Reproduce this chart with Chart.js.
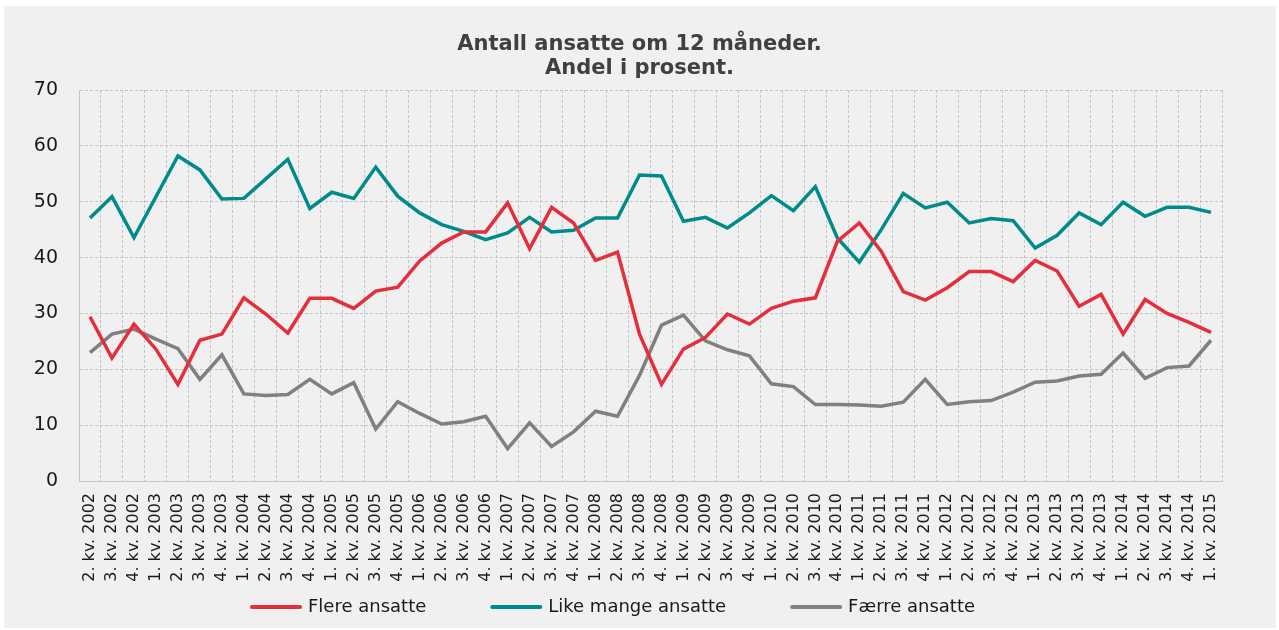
<!DOCTYPE html>
<html>
<head>
<meta charset="utf-8">
<title>Antall ansatte om 12 måneder</title>
<script src="https://cdn.jsdelivr.net/npm/chart.js@4/dist/chart.umd.min.js"></script>
<style>
  body { margin: 0; background: #fff; }
</style>
</head>
<body>
<canvas id="chart" width="1279" height="630"></canvas>
<script>
// quarters from 2. kv. 2002 to 1. kv. 2015
const startYear = 2002;
const startQuarter = 2;
const quarterCount = 52;

const categories = [];
for (let i = 0; i < quarterCount; i++) {
  const q = (startQuarter - 1 + i) % 4 + 1;
  const y = startYear + Math.floor((startQuarter - 1 + i) / 4);
  categories.push(q + ". kv. " + y);
}

const flereAnsatte = [
  29.4, 22.0, 28.1, 23.6, 17.3, 25.2, 26.3, 32.8, 29.9, 26.5, 32.7, 32.7, 30.9,
  34.0, 34.7, 39.4, 42.6, 44.6, 44.6, 49.8, 41.6, 49.0, 46.2, 39.5, 41.0, 26.3,
  17.3, 23.6, 25.7, 29.9, 28.1, 30.9, 32.2, 32.8, 42.9, 46.2, 41.1, 33.9, 32.4,
  34.6, 37.5, 37.5, 35.7, 39.5, 37.6, 31.3, 33.4, 26.3, 32.5, 30.0, 28.4, 26.6
];

const likeMangeAnsatte = [
  47.1, 50.9, 43.6, 50.9, 58.2, 55.7, 50.5, 50.6, 54.1, 57.6, 48.8, 51.7, 50.6,
  56.2, 51.0, 48.0, 45.9, 44.7, 43.2, 44.4, 47.2, 44.6, 44.9, 47.1, 47.1, 54.8,
  54.6, 46.5, 47.2, 45.3, 48.0, 51.1, 48.4, 52.7, 43.5, 39.2, 45.0, 51.5, 48.9,
  49.9, 46.2, 47.0, 46.6, 41.7, 44.0, 48.0, 45.9, 49.9, 47.4, 49.0, 49.0, 48.1
];

const faerreAnsatte = [
  23.0, 26.3, 27.2, 25.4, 23.7, 18.2, 22.6, 15.6, 15.3, 15.5, 18.2, 15.6, 17.6,
  9.3, 14.2, 12.1, 10.2, 10.6, 11.6, 5.8, 10.4, 6.2, 8.8, 12.5, 11.6, 18.9,
  27.9, 29.7, 25.1, 23.5, 22.4, 17.4, 16.9, 13.7, 13.7, 13.6, 13.4, 14.1, 18.2,
  13.7, 14.2, 14.4, 15.9, 17.7, 17.9, 18.8, 19.1, 22.9, 18.4, 20.3, 20.6, 25.2
];

const seriesNames = ["Flere ansatte", "Like mange ansatte", "Færre ansatte"];
const seriesColors = ["#e52e3c", "#008b8b", "#808080"];
const titleLines = ["Antall ansatte om 12 måneder.", "Andel i prosent."];

const fontFamily = "'DejaVu Sans', Verdana, sans-serif";
const gridColor = "#c4c4c4";
const textColor = "#1a1a1a";

// paints the grey page behind the chart
const background = {
  id: "background",
  beforeDraw(chart) {
    const ctx = chart.ctx;
    ctx.save();
    ctx.fillStyle = "#ffffff";
    ctx.fillRect(0, 0, chart.width, chart.height);
    ctx.fillStyle = "#f0f0f0";
    ctx.fillRect(4, 6, chart.width - 7, chart.height - 8);
    ctx.restore();
  }
};

// legend row under the axis labels, with wider gaps than the built-in one
const legendLeft = 250;
const legendY = 607;
const legendLine = 52;
const legendGap = 6;
const legendSpacing = 64;

const lineLegend = {
  id: "lineLegend",
  afterDraw(chart) {
    const ctx = chart.ctx;
    ctx.save();
    ctx.font = "18px " + fontFamily;
    ctx.textBaseline = "middle";
    ctx.textAlign = "left";
    let x = legendLeft;
    chart.data.datasets.forEach(function (ds) {
      ctx.strokeStyle = ds.borderColor;
      ctx.lineWidth = 4;
      ctx.lineCap = "round";
      ctx.beginPath();
      ctx.moveTo(x + 2, legendY);
      ctx.lineTo(x + legendLine - 2, legendY);
      ctx.stroke();
      x += legendLine + legendGap;
      ctx.fillStyle = textColor;
      ctx.fillText(ds.label, x, legendY);
      x += ctx.measureText(ds.label).width + legendSpacing;
    });
    ctx.restore();
  }
};

function makeDataset(i, values) {
  return {
    label: seriesNames[i],
    data: values,
    borderColor: seriesColors[i],
    backgroundColor: seriesColors[i],
    borderWidth: 3.5,
    pointRadius: 0,
    pointHoverRadius: 0,
    tension: 0,
    fill: false
  };
}

new Chart(document.getElementById("chart"), {
  type: "line",
  data: {
    labels: categories,
    datasets: [
      makeDataset(0, flereAnsatte),
      makeDataset(1, likeMangeAnsatte),
      makeDataset(2, faerreAnsatte)
    ]
  },
  options: {
    responsive: false,
    animation: false,
    layout: {
      padding: 0
    },
    plugins: {
      title: {
        display: true,
        text: titleLines,
        color: "#404040",
        font: { family: fontFamily, size: 21, weight: "bold", lineHeight: 1.12 },
        padding: { top: 33, bottom: 10 }
      },
      legend: { display: false },
      tooltip: { enabled: false }
    },
    scales: {
      x: {
        offset: true,
        grid: {
          offset: true,
          color: gridColor,
          lineWidth: 1,
          drawTicks: false
        },
        border: { display: true, color: gridColor, dash: [3, 2] },
        ticks: {
          autoSkip: false,
          minRotation: 90,
          maxRotation: 90,
          padding: 12,
          color: textColor,
          font: { family: fontFamily, size: 16 }
        },
        afterFit(scale) {
          scale.height = 149;
        }
      },
      y: {
        min: 0,
        max: 70,
        grid: {
          color: gridColor,
          lineWidth: 1,
          drawTicks: false
        },
        border: { display: true, color: gridColor, dash: [3, 2] },
        ticks: {
          stepSize: 10,
          padding: 21,
          color: textColor,
          font: { family: fontFamily, size: 19 }
        },
        afterFit(scale) {
          scale.width = 79;
        }
      },
      // empty axis that only keeps the right margin
      yRight: {
        position: "right",
        display: true,
        grid: { display: false, drawOnChartArea: false },
        border: { display: false },
        ticks: { display: false },
        afterFit(scale) {
          scale.width = 57;
        }
      }
    }
  },
  plugins: [background, lineLegend]
});
</script>
</body>
</html>
